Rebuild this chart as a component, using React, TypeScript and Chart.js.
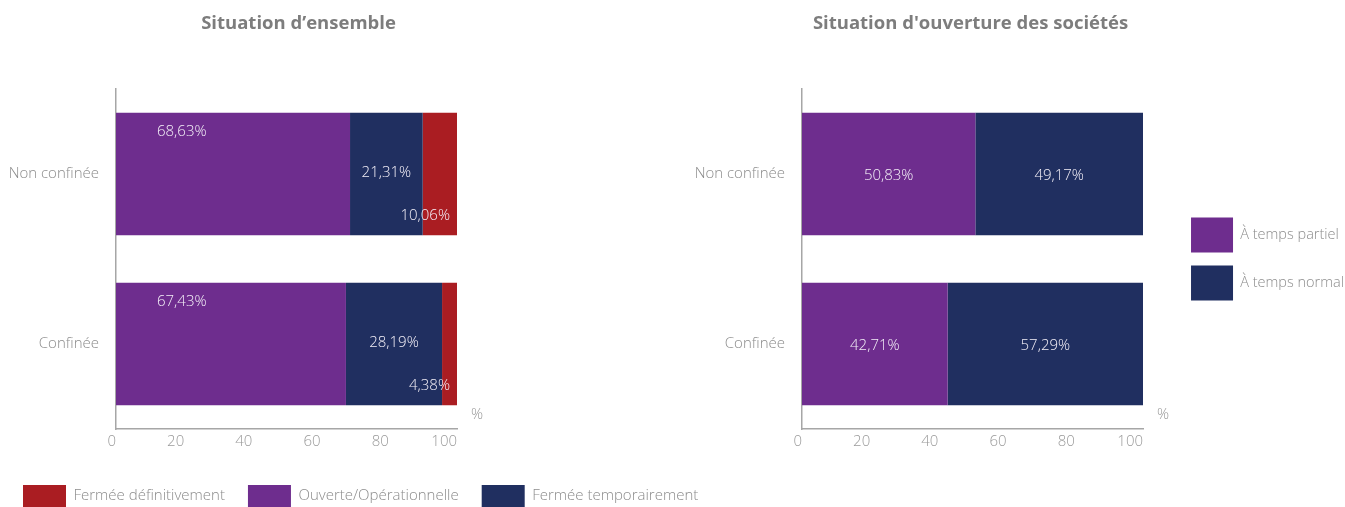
import React, { useEffect, useRef } from 'react';
import { Chart, registerables } from 'chart.js';

Chart.register(...registerables);

// ---- data ----
const categories = ['Non confinée', 'Confinée'];
const ouverte = [68.63, 67.43];
const fermeeTemporairement = [21.31, 28.19];
const fermeeDefinitivement = [10.06, 4.38];
const tempsPartiel = [50.83, 42.71];
const tempsNormal = [49.17, 57.29];
const xTickValues = [0, 20, 40, 60, 80, 100];
const leftTitle = 'Situation d’ensemble';
const rightTitle = "Situation d'ouverture des sociétés";
const unitLabel = '%';

// ---- styles ----
const PURPLE = '#6E2D8E';
const NAVY = '#202F60';
const RED = '#AA1D22';
const GRAY = '#8c8c8c';
const TICK_GRAY = '#9a9a9a';
const AXIS_GRAY = '#a6a6a6';
const FONT = "'Open Sans', sans-serif";

const fmt = (v: number) => v.toFixed(2).replace('.', ',') + '%';

const segLabels = {
  id: 'segLabels',
  afterDatasetsDraw(chart: any, _args: any, opts: any) {
    const ctx = chart.ctx;
    const area = chart.chartArea;
    ctx.save();
    ctx.font = `300 15px ${FONT}`;
    ctx.fillStyle = '#f3eff7';
    ctx.textBaseline = 'middle';
    chart.data.datasets.forEach((ds: any, di: number) => {
      const meta = chart.getDatasetMeta(di);
      const place = (opts.places && opts.places[di]) || 'center';
      meta.data.forEach((bar: any, i: number) => {
        const p = bar.getProps(['x', 'y', 'base', 'height'], true);
        const left = Math.min(p.x, p.base);
        const right = Math.max(p.x, p.base);
        let tx = (left + right) / 2;
        let ty = p.y;
        let align = 'center';
        if (place === 'topLeft') {
          tx = left + 41;
          ty = p.y - p.height / 2 + 19;
          align = 'left';
        } else if (place === 'bottomRight') {
          tx = right - 7;
          ty = p.y + p.height / 2 - 19;
          align = 'right';
        } else {
          ty = p.y + (opts.dy || 0);
        }
        ctx.textAlign = align;
        ctx.fillText(fmt(ds.data[i]), tx, ty);
      });
    });
    ctx.fillStyle = TICK_GRAY;
    ctx.textAlign = 'center';
    ctx.fillText(unitLabel, area.right + 20, area.bottom - 14);
    ctx.font = `700 18.5px ${FONT}`;
    ctx.fillStyle = '#7d7d7d';
    ctx.fillText(opts.title, (area.left + area.right) / 2 + opts.titleDx, 24);
    ctx.restore();
  },
};

const lightFont = { family: FONT, size: 15, weight: 300 as any };

function baseScales(yWidth: number, xHeight: number, padWidth: number) {
  return {
    x: {
      stacked: true,
      min: 0,
      max: 100,
      grid: { display: false, drawTicks: false },
      border: { display: true, color: AXIS_GRAY, width: 1.5 },
      afterBuildTicks: (s: any) => {
        s.ticks = xTickValues.map((v) => ({ value: v }));
      },
      ticks: { align: 'end', color: TICK_GRAY, font: lightFont, padding: 4, maxRotation: 0 },
      afterFit: (s: any) => {
        s.height = xHeight;
      },
    },
    y: {
      stacked: true,
      grid: { display: false, drawTicks: false },
      border: { display: true, color: AXIS_GRAY, width: 1.5 },
      ticks: { color: GRAY, font: lightFont, padding: 17 },
      afterFit: (s: any) => {
        s.width = yWidth;
      },
    },
    pad: {
      type: 'linear',
      axis: 'y',
      position: 'right',
      display: true,
      grid: { display: false, drawTicks: false },
      border: { display: false },
      ticks: { display: false },
      afterFit: (s: any) => {
        s.width = padWidth;
      },
    },
  };
}

// canvas geometry (page pixels)
const LEFT_W = 800;
const LEFT_H = 517;
const RIGHT_LEFT = 154;
const RIGHT_W = 1200;
const RIGHT_H = 507;

export default function App() {
  const leftRef = useRef<HTMLCanvasElement>(null);
  const rightRef = useRef<HTMLCanvasElement>(null);

  useEffect(() => {
    const legendOrder = [2, 0, 1];
    const left = new Chart(leftRef.current as HTMLCanvasElement, {
      type: 'bar',
      data: {
        labels: categories,
        datasets: [
          { label: 'Ouverte/Opérationnelle', data: ouverte, backgroundColor: PURPLE, xAxisID: 'x', yAxisID: 'y' },
          { label: 'Fermée temporairement', data: fermeeTemporairement, backgroundColor: NAVY, xAxisID: 'x', yAxisID: 'y' },
          { label: 'Fermée définitivement', data: fermeeDefinitivement, backgroundColor: RED, xAxisID: 'x', yAxisID: 'y' },
        ],
      },
      options: {
        indexAxis: 'y',
        responsive: false,
        animation: false,
        devicePixelRatio: 1,
        layout: { padding: { top: 89, left: 0, right: 0, bottom: 0 } },
        datasets: { bar: { barPercentage: 0.9, categoryPercentage: 0.8, borderWidth: 0 } },
        scales: baseScales(116, 33, LEFT_W - 457) as any,
        plugins: {
          legend: {
            position: 'bottom',
            align: 'start',
            labels: {
              boxWidth: 43,
              boxHeight: 22,
              padding: 23,
              color: GRAY,
              font: lightFont,
              sort: (a: any, b: any) => legendOrder.indexOf(a.datasetIndex) - legendOrder.indexOf(b.datasetIndex),
            },
          },
          tooltip: { enabled: false },
          segLabels: { places: ['topLeft', 'center', 'bottomRight'], dy: -1, title: leftTitle, titleDx: 12 },
        } as any,
      },
      plugins: [segLabels],
    } as any);

    const right = new Chart(rightRef.current as HTMLCanvasElement, {
      type: 'bar',
      data: {
        labels: categories,
        datasets: [
          { label: 'À temps partiel', data: tempsPartiel, backgroundColor: PURPLE, xAxisID: 'x', yAxisID: 'y' },
          { label: 'À temps normal', data: tempsNormal, backgroundColor: NAVY, xAxisID: 'x', yAxisID: 'y' },
        ],
      },
      options: {
        indexAxis: 'y',
        responsive: false,
        animation: false,
        devicePixelRatio: 1,
        layout: { padding: { top: 89, left: 0, right: 0, bottom: 0 } },
        datasets: { bar: { barPercentage: 0.9, categoryPercentage: 0.8, borderWidth: 0 } },
        scales: baseScales(802 - RIGHT_LEFT, RIGHT_H - 429, 35) as any,
        plugins: {
          legend: {
            position: 'right',
            align: 'center',
            fullSize: false,
            labels: {
              boxWidth: 42,
              boxHeight: 35,
              padding: 13,
              color: GRAY,
              font: { family: FONT, size: 14.5, weight: 300 },
            },
          },
          tooltip: { enabled: false },
          segLabels: { places: ['center', 'center'], dy: 2, title: rightTitle, titleDx: -2 },
        } as any,
      },
      plugins: [segLabels],
    } as any);

    return () => {
      left.destroy();
      right.destroy();
    };
  }, []);

  return (
    <div
      style={{
        position: 'absolute',
        left: 0,
        top: 0,
        width: 1345,
        height: 507,
        overflow: 'hidden',
        background: '#ffffff',
      }}
    >
      <canvas
        ref={leftRef}
        width={LEFT_W}
        height={LEFT_H}
        style={{ position: 'absolute', left: 0, top: 0, width: LEFT_W, height: LEFT_H }}
      />
      <canvas
        ref={rightRef}
        width={RIGHT_W}
        height={RIGHT_H}
        style={{ position: 'absolute', left: RIGHT_LEFT, top: 0, width: RIGHT_W, height: RIGHT_H }}
      />
    </div>
  );
}
